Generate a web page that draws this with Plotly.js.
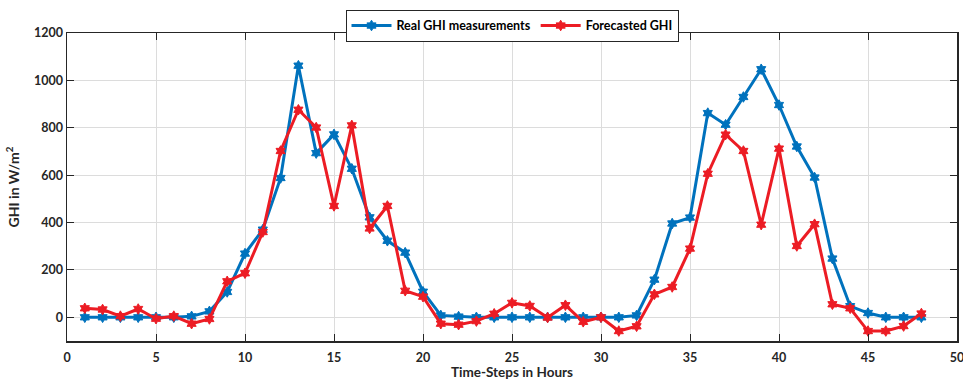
<!DOCTYPE html>
<html>
<head>
<meta charset="utf-8">
<script src="https://cdn.plot.ly/plotly-3.0.1.min.js"></script>
<style>html,body{margin:0;padding:0;background:#fff;}#chart{width:963px;height:380px;}</style>
</head>
<body>
<div id="chart"></div>
<script>
const timeSteps = [1,2,3,4,5,6,7,8,9,10,11,12,13,14,15,16,17,18,19,20,21,22,23,24,25,26,27,28,29,30,31,32,33,34,35,36,37,38,39,40,41,42,43,44,45,46,47,48];
const realGHI = [0,0,0,0,0,0,4,25,107,269,370,588,1062,693,772,627,422,323,273,108,8,3,0,0,0,0,0,0,0,0,0,8,159,396,421,862,813,930,1047,896,721,590,248,47,18,0,0,0];
const forecastGHI = [38,33,5,35,-6,5,-27,-7,152,186,360,702,876,801,470,810,375,470,112,87,-27,-31,-16,15,61,48,-1,51,-19,0,-58,-38,97,128,290,606,771,702,391,712,301,393,55,38,-58,-58,-37,16];
const seriesNames = ['Real GHI measurements', 'Forecasted GHI'];
const xTitle = 'Time-Steps in Hours';
const yTitle = 'GHI in W/m<sup>2</sup>';

const blue = 'rgb(0,114,189)';
const red = 'rgb(236,28,36)';
const axisCol = '#262626';
const fam = 'Lato, "Open Sans", sans-serif';
const fnt = {family: fam, size: 12.5, color: axisCol, weight: 'bold'};

const traces = [
  {x: timeSteps, y: realGHI, name: seriesNames[0], type: 'scatter', mode: 'lines+markers',
   line: {color: blue, width: 3}, marker: {symbol: 'hexagram', size: 8, color: blue, line: {color: blue, width: 1}}},
  {x: timeSteps, y: forecastGHI, name: seriesNames[1], type: 'scatter', mode: 'lines+markers',
   line: {color: red, width: 3}, marker: {symbol: 'hexagram', size: 8, color: red, line: {color: red, width: 1}}}
];

const layout = {
  width: 963, height: 380,
  margin: {l: 67, r: 6, t: 33, b: 39},
  paper_bgcolor: '#fff', plot_bgcolor: '#fff',
  font: fnt,
  showlegend: true,
  legend: {orientation: 'h', x: 0.5, xanchor: 'center', y: 1.075, yanchor: 'top',
    bordercolor: axisCol, borderwidth: 1, bgcolor: '#fff',
    font: {family: fam, size: 12.5, color: '#000', weight: 'bold'},
    itemwidth: 40, tracegroupgap: 0},
  xaxis: {range: [0, 50], dtick: 5, tick0: 0, showgrid: true, gridcolor: '#dcdcdc', gridwidth: 1,
    zeroline: false, showline: true, linecolor: axisCol, linewidth: 1.5, mirror: 'ticks',
    ticks: 'inside', ticklen: 7, tickcolor: axisCol, tickwidth: 1,
    ticklabeloverflow: 'allow', ticklabelstandoff: 4,
    tickfont: {family: fam, size: 12.5, color: axisCol, weight: 'bold'},
    title: {text: xTitle, font: {family: fam, size: 13.5, color: axisCol, weight: 'bold'}, standoff: 11}},
  yaxis: {range: [-100, 1200], dtick: 200, tick0: 0, showgrid: true, gridcolor: '#dcdcdc', gridwidth: 1,
    zeroline: false, showline: true, linecolor: axisCol, linewidth: 1.5, mirror: 'ticks',
    ticks: 'inside', ticklen: 7, tickcolor: axisCol, tickwidth: 1,
    tickfont: {family: fam, size: 12.5, color: axisCol, weight: 'bold'},
    title: {text: yTitle, font: {family: fam, size: 14, color: axisCol, weight: 'bold'}, standoff: 11}}
};

Plotly.newPlot('chart', traces, layout, {displayModeBar: false, staticPlot: true});
</script>
</body>
</html>
